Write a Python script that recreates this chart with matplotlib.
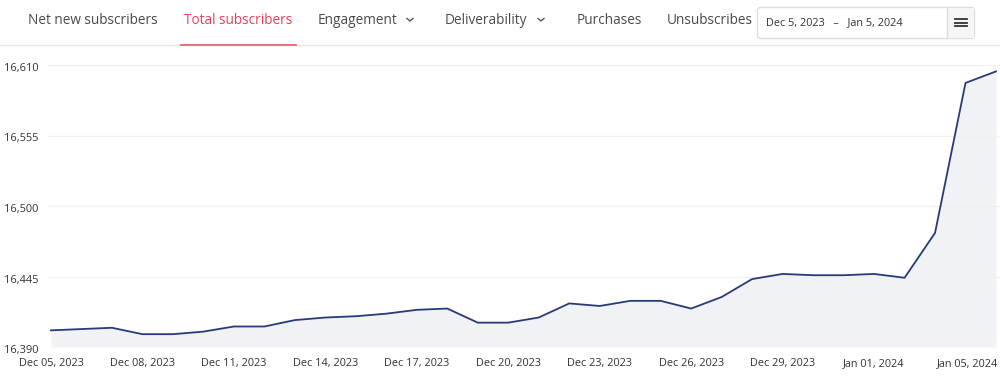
import numpy as np
import pandas as pd
import matplotlib
matplotlib.use("Agg")
import matplotlib.pyplot as plt
import matplotlib.dates as mdates
from matplotlib.patches import FancyBboxPatch, Rectangle
from matplotlib.transforms import ScaledTranslation

plt.rcParams['font.family'] = ['Open Sans', 'DejaVu Sans']

# data
dates = pd.date_range('2023-12-05', '2024-01-05', freq='D')
subscribers = [16403, 16404, 16405, 16400, 16400, 16402, 16406, 16406,
               16411, 16413, 16414, 16416, 16419, 16420, 16409, 16409,
               16413, 16424, 16422, 16426, 16426, 16420, 16429, 16443,
               16447, 16446, 16446, 16447, 16444, 16479, 16596, 16605]
y_ticks = [16390, 16445, 16500, 16555, 16610]
x_tick_dates = list(pd.date_range('2023-12-05', '2024-01-01', freq='3D')) + [pd.Timestamp('2024-01-05')]

tabs = ['Net new subscribers', 'Total subscribers', 'Engagement', 'Deliverability',
        'Purchases', 'Unsubscribes']
tab_x = [28, 184, 318, 445, 577, 667]
active_tab = 'Total subscribers'
date_range_text = 'Dec 5, 2023   \u2013   Jan 5, 2024'

line_color = '#283a78'
fill_color = '#f1f2f6'
text_color = '#333333'

W, H = 1000, 385
fig = plt.figure(figsize=(W / 100, H / 100), dpi=100)

# main chart, placed in pixel coords
left_px, right_px, top_px, bottom_px = 48, 1000, 65, 347
ax = fig.add_axes([left_px / W, 1 - bottom_px / H,
                   (right_px - left_px) / W, (bottom_px - top_px) / H])

x = mdates.date2num(dates)
ax.plot(x, subscribers, color=line_color, lw=1.3, zorder=3)
ax.fill_between(x, subscribers, y_ticks[0], color=fill_color, lw=0, zorder=1)

day_px = (996 - 51) / 31
ax.set_xlim(x[0] - (51 - left_px) / day_px, x[-1] + (right_px - 996) / day_px)
ax.set_ylim(y_ticks[0], y_ticks[-1])

ax.set_yticks(y_ticks)
ax.set_yticklabels([f'{v:,}' for v in y_ticks])
ax.grid(axis='y', color='#f0f0f2', lw=1, zorder=0)
ax.tick_params(axis='y', length=0, pad=(left_px - 4) * 0.72, labelsize=7.9, labelcolor=text_color)
for lab in ax.get_yticklabels():
    lab.set_horizontalalignment('left')
    lab.set_transform(lab.get_transform() + ScaledTranslation(0, -2 / 100, fig.dpi_scale_trans))

ax.set_xticks(mdates.date2num(x_tick_dates))
ax.set_xticklabels([d.strftime('%b %d, %Y') for d in x_tick_dates])
ax.tick_params(axis='x', length=0, pad=8, labelsize=7.8, labelcolor=text_color)
last = ax.get_xticklabels()[-1]
last.set_horizontalalignment('right')
last.set_transform(last.get_transform() + ScaledTranslation(2 / 100, 0, fig.dpi_scale_trans))

for s in ax.spines.values():
    s.set_visible(False)

# header overlay in pixel coordinates
hx = fig.add_axes([0, 0, 1, 1], zorder=5)
hx.set_xlim(0, W)
hx.set_ylim(H, 0)
hx.axis('off')
hx.patch.set_alpha(0)

hx.plot([0, W], [45, 45], color='#e6e6e6', lw=1)
for name, tx in zip(tabs, tab_x):
    col = '#e8405a' if name == active_tab else '#4a4a4a'
    hx.text(tx, 20.5, name, fontsize=9.85, color=col, va='center', ha='left')
    if name == active_tab:
        hx.plot([181, 296], [44.5, 44.5], color='#f0607a', lw=1.3)

# dropdown chevrons
for cx in [410, 541]:
    hx.plot([cx - 3, cx, cx + 3], [18.5, 21, 18.5], color='#555555', lw=1)

# date range box
box = FancyBboxPatch((757.5, 7.5), 217, 31, boxstyle='round,pad=0,rounding_size=3',
                     fc='white', ec='#dddddd', lw=1)
hx.add_patch(box)
hx.add_patch(Rectangle((947, 8), 27, 30, fc='#f4f5f7', ec='none'))
hx.plot([947, 947], [8, 38], color='#dddddd', lw=1)
for yy in [19, 22.5, 26]:
    hx.plot([955, 967], [yy, yy], color='#333333', lw=1.3)
hx.text(766, 23, date_range_text, fontsize=7.8, color='#333333', va='center', ha='left')

fig.savefig('out.png', dpi=100)
